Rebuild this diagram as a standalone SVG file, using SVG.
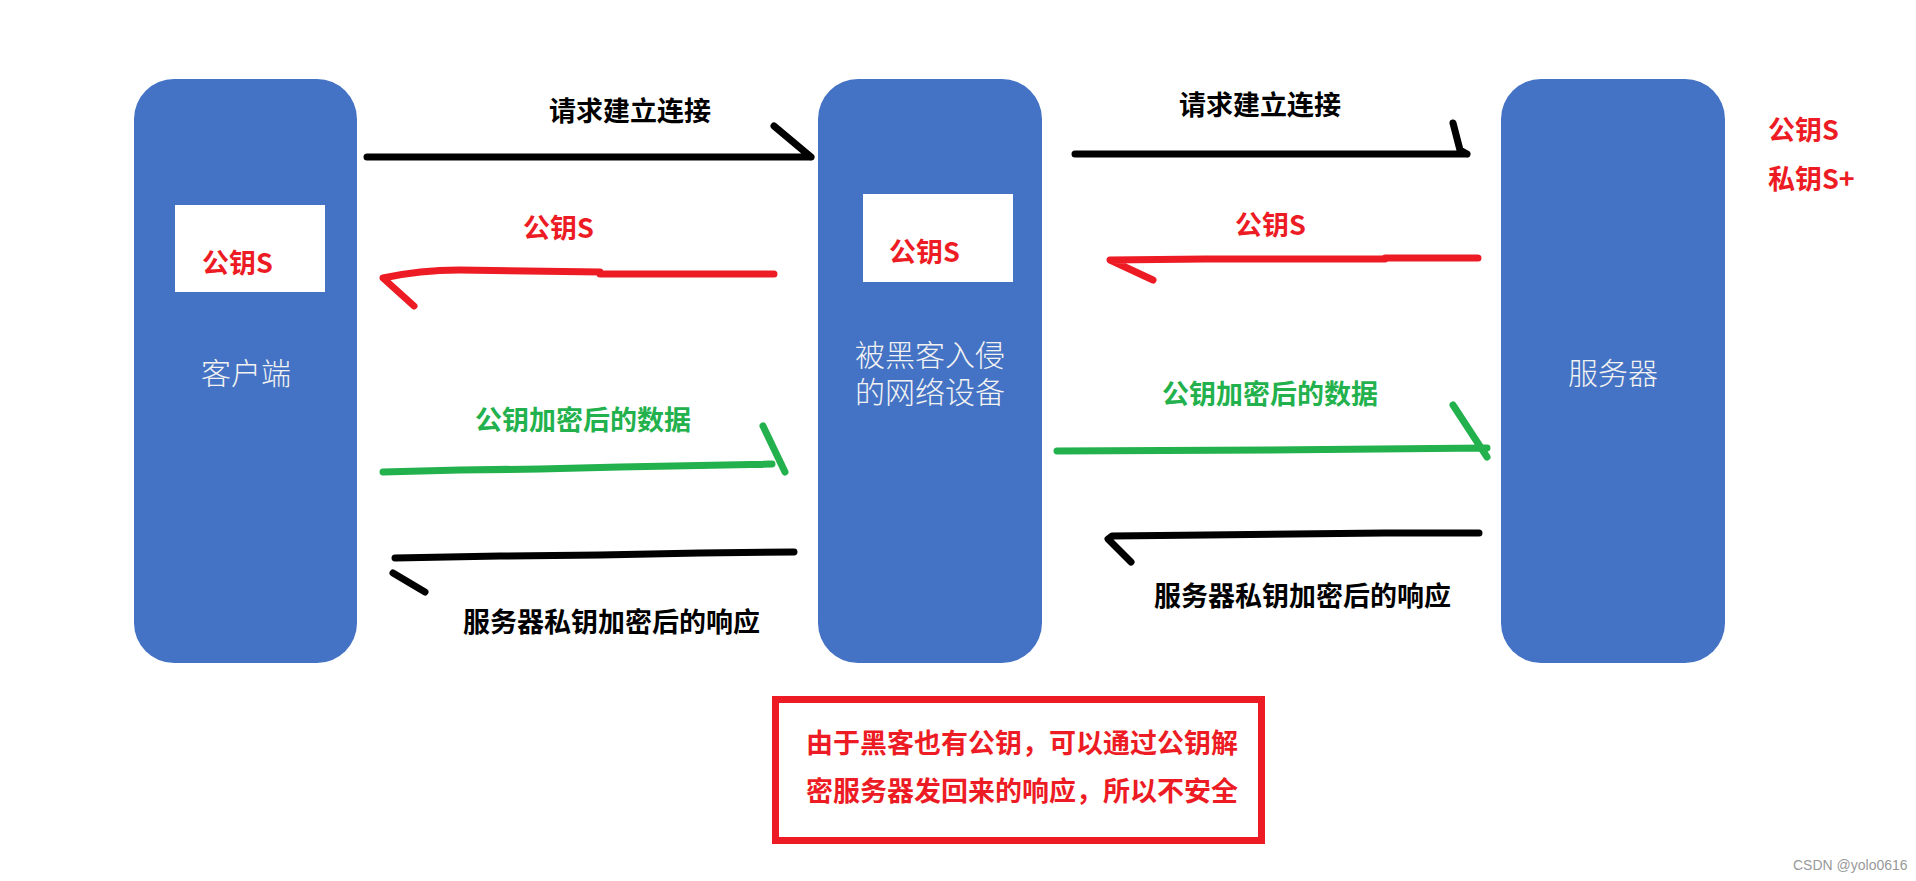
<svg xmlns="http://www.w3.org/2000/svg" width="1916" height="881" viewBox="0 0 1916 881">
<style>
.node{fill:#4472C4;}
.inner{fill:#FFFFFF;}
.nlabel{font-family:"Noto Sans CJK SC","Microsoft YaHei",sans-serif;font-size:30px;fill:#F2F2F2;font-weight:300;text-anchor:middle;}
.lbl{font-family:"Noto Sans CJK SC","Microsoft YaHei",sans-serif;font-size:27px;font-weight:bold;}
.red{fill:#ED1C24;}
.blk{fill:#000000;}
.grn{fill:#22B14C;}
.ln{fill:none;stroke-width:7;stroke-linecap:round;stroke-linejoin:round;}
.sr{stroke:#ED1C24;}
.sb{stroke:#000000;}
.sg{stroke:#22B14C;}
</style>
<rect width="1916" height="881" fill="#FFFFFF"/>
<g id="client">
<rect class="node" x="134" y="79" width="223" height="584" rx="40" ry="40"/>
<rect class="inner" x="175" y="205" width="150" height="87"/>
<text class="lbl red" x="202" y="273">公钥S</text>
<text class="nlabel" x="246" y="384">客户端</text>
</g>
<g id="hacker">
<rect class="node" x="818" y="79" width="224" height="584" rx="40" ry="40"/>
<rect class="inner" x="863" y="194" width="150" height="88"/>
<text class="lbl red" x="889" y="262">公钥S</text>
<text class="nlabel" x="930" y="366">被黑客入侵</text>
<text class="nlabel" x="930" y="403">的网络设备</text>
</g>
<g id="server">
<rect class="node" x="1501" y="79" width="224" height="584" rx="40" ry="40"/>
<text class="nlabel" x="1613" y="384">服务器</text>
</g>
<g id="server-keys">
<text class="lbl red" x="1768" y="140">公钥S</text>
<text class="lbl red" x="1768" y="189">私钥S+</text>
</g>
<g id="connectors">
<path class="ln sb" d="M367 157 L811 157 M774 126 L811 157"/>
<path class="ln sb" d="M1075 154 L1467 154 M1453 123 L1460 150 L1467 154"/>
<path class="ln sr" d="M774 274 L600 274 L600 272 L459 270 Q420 270 383 278 L414 306"/>
<path class="ln sr" d="M1478 258 L1385 258 L1385 259 L1206 259 L1110 260 L1153 280"/>
<path class="ln sg" d="M383 472 L460 470 L540 469 L620 467 L772 464 M763 426 L785 472"/>
<path class="ln sg" d="M1057 451 L1270 450 L1487 448 M1453 405 L1487 457"/>
<path class="ln sb" d="M794 552 L700 553 L600 555 L500 556 L395 558 M393 573 L425 592"/>
<path class="ln sb" d="M1479 533 L1385 533 L1206 535 L1112 536 L1108 539 L1131 562"/>
</g>
<g id="labels">
<text class="lbl blk" x="549" y="121">请求建立连接</text>
<text class="lbl blk" x="1179" y="115">请求建立连接</text>
<text class="lbl red" x="523" y="238">公钥S</text>
<text class="lbl red" x="1235" y="235">公钥S</text>
<text class="lbl grn" x="475" y="430">公钥加密后的数据</text>
<text class="lbl grn" x="1162" y="404">公钥加密后的数据</text>
<text class="lbl blk" x="463" y="632">服务器私钥加密后的响应</text>
<text class="lbl blk" x="1154" y="606">服务器私钥加密后的响应</text>
</g>
<g id="note">
<rect x="775.5" y="699.5" width="486" height="141" fill="#FFFFFF" stroke="#ED1C24" stroke-width="7"/>
<text class="lbl red" x="806" y="753">由于黑客也有公钥，可以通过公钥解</text>
<text class="lbl red" x="806" y="801">密服务器发回来的响应，所以不安全</text>
</g>
<text x="1793" y="870" font-family="'Liberation Sans',Arial,sans-serif" font-size="14" fill="#999999">CSDN @yolo0616</text>
</svg>
